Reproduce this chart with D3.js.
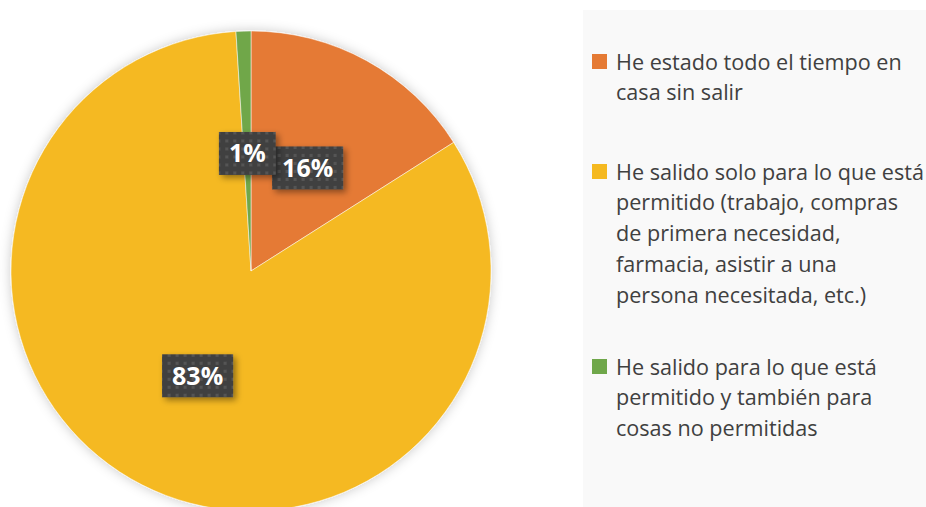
<!DOCTYPE html>
<html><head><meta charset="utf-8">
<script src="https://cdn.jsdelivr.net/npm/d3@7"></script>
<style>html,body{margin:0;padding:0;background:#fff;overflow:hidden}</style>
</head><body>
<svg id="c" width="926" height="507"></svg>
<script>
const categories = [
  "He estado todo el tiempo en casa sin salir",
  "He salido solo para lo que está permitido (trabajo, compras de primera necesidad, farmacia, asistir a una persona necesitada, etc.)",
  "He salido para lo que está permitido y también para cosas no permitidas"
];
const legendLines = [
  ["He estado todo el tiempo en", "casa sin salir"],
  ["He salido solo para lo que está", "permitido (trabajo, compras", "de primera necesidad,", "farmacia, asistir a una", "persona necesitada, etc.)"],
  ["He salido para lo que está", "permitido y también para", "cosas no permitidas"]
];
const values = [16, 83, 1];
const labels = ["16%", "83%", "1%"];
const colors = ["#E57A34", "#F5B920", "#6FA74A"];

const svg = d3.select("#c");
const defs = svg.append("defs");
const f1 = defs.append("filter").attr("id","pieShadow").attr("x","-20%").attr("y","-20%").attr("width","140%").attr("height","140%");
f1.append("feDropShadow").attr("dx",0).attr("dy",0).attr("stdDeviation",6).attr("flood-color","#000").attr("flood-opacity",0.22);
const f2 = defs.append("filter").attr("id","boxShadow").attr("x","-30%").attr("y","-30%").attr("width","170%").attr("height","170%");
f2.append("feDropShadow").attr("dx",3).attr("dy",3).attr("stdDeviation",3).attr("flood-color","#000").attr("flood-opacity",0.4);
const pat = defs.append("pattern").attr("id","dots").attr("patternUnits","userSpaceOnUse").attr("width",8).attr("height",8);
pat.append("rect").attr("width",8).attr("height",8).attr("fill","#414141");
pat.append("rect").attr("x",2).attr("y",2).attr("width",3).attr("height",3).attr("fill","#555555");

// legend panel
svg.append("rect").attr("x",583).attr("y",10).attr("width",343).attr("height",497).attr("fill","#f9f9f9");

const cx = 251, cy = 271, R = 240;
const pie = d3.pie().sort(null).value(d => d)(values);
const arc = d3.arc().innerRadius(0).outerRadius(R);
const g = svg.append("g").attr("transform",`translate(${cx},${cy})`);
const slices = g.append("g").attr("filter","url(#pieShadow)");
slices.selectAll("path").data(pie).join("path")
  .attr("d", arc).attr("fill",(d,i)=>colors[i])
  .attr("stroke","#fff").attr("stroke-width",0.5);

const labelArc = d3.arc().innerRadius(R*0.49).outerRadius(R*0.49);
const lg = g.selectAll("g.lab").data(pie).join("g").attr("class","lab")
  .attr("transform", d => { const c = labelArc.centroid(d); return `translate(${c[0]},${c[1]})`; });
lg.each(function(d,i){
  const s = d3.select(this);
  const t = s.append("text").text(labels[i])
    .attr("font-family","Open Sans").attr("font-weight","bold").attr("font-size",25)
    .attr("fill","#fff").attr("text-anchor","middle").attr("dy","0.36em");
  const w = t.node().getComputedTextLength();
  s.insert("rect","text").attr("x",-w/2-10).attr("y",-21.5).attr("width",w+20).attr("height",43)
    .attr("fill","url(#dots)").attr("filter","url(#boxShadow)");
});

// legend
const legTop = [62, 172, 367];
const leg = svg.append("g");
legendLines.forEach((lines,i)=>{
  leg.append("rect").attr("x",592).attr("y",legTop[i]-8).attr("width",15).attr("height",15).attr("fill",colors[i]);
  const t = leg.append("text").attr("font-family","Open Sans").attr("font-size",21.6).attr("fill","#404040");
  lines.forEach((ln,j)=>{
    t.append("tspan").attr("x",616).attr("y",legTop[i]+j*30.8).attr("dy","0.35em").text(ln);
  });
});
</script>
</body></html>
